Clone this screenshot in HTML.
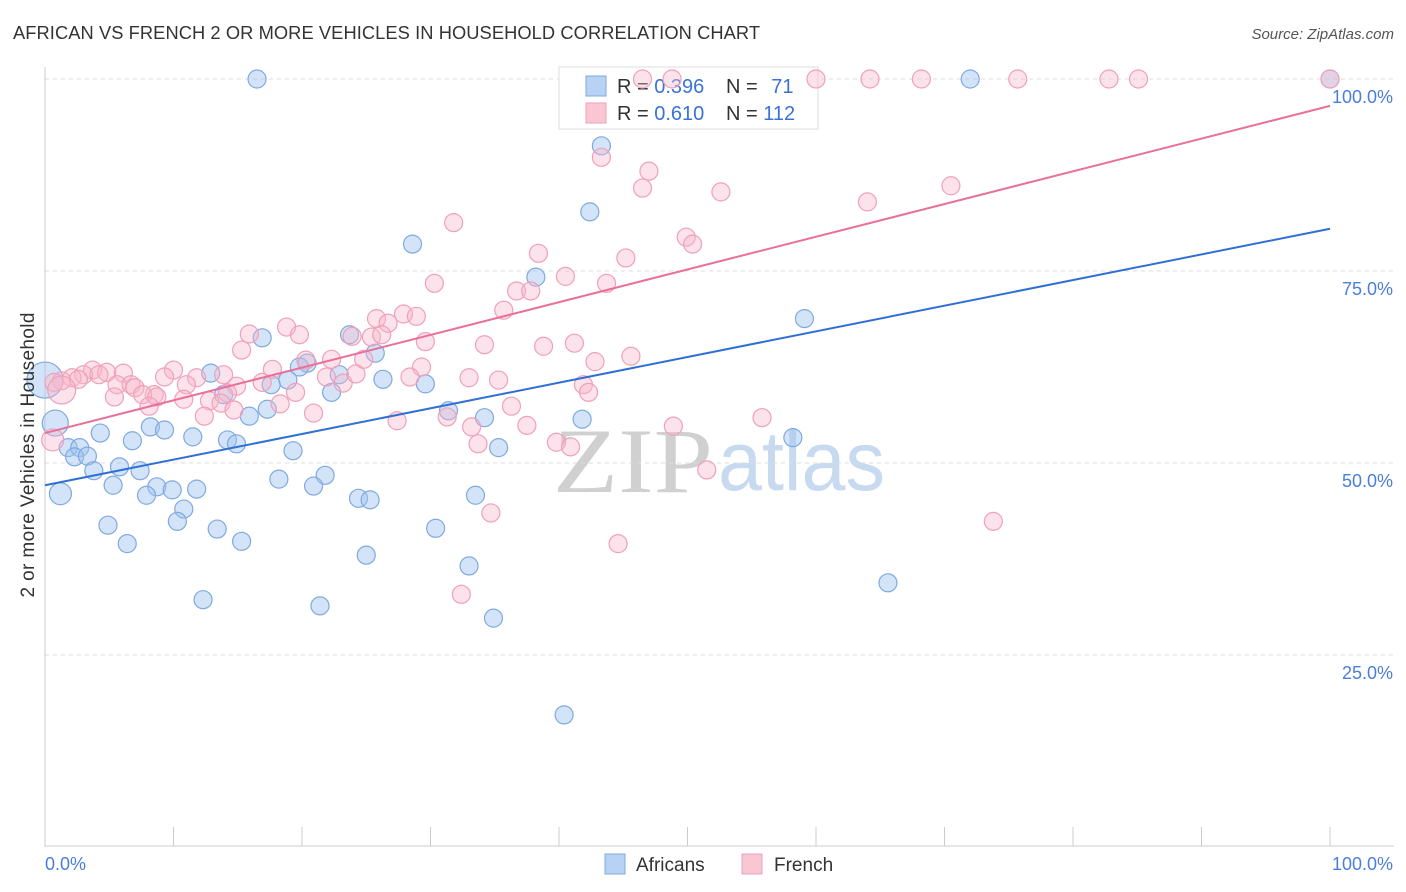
<!DOCTYPE html>
<html><head><meta charset="utf-8"><style>
body{margin:0;background:#fff;font-family:"Liberation Sans",sans-serif;}
svg{display:block}
</style></head><body>
<svg id="chart" width="1406" height="892" xmlns="http://www.w3.org/2000/svg" font-family="Liberation Sans, sans-serif">
<text x="13" y="39" font-size="18.3" fill="#333" textLength="747">AFRICAN VS FRENCH 2 OR MORE VEHICLES IN HOUSEHOLD CORRELATION CHART</text>
<text x="1394" y="39" font-size="15" fill="#555" text-anchor="end" font-style="italic">Source: ZipAtlas.com</text>
<g font-size="92" font-family="Liberation Serif, serif">
<text x="553" y="492" fill="#d0d0d0" textLength="160" lengthAdjust="spacingAndGlyphs">ZIP</text><text x="718" y="490" fill="#c8daf0" font-size="84" font-family="Liberation Sans, sans-serif" textLength="167" lengthAdjust="spacingAndGlyphs">atlas</text></g>
<g id="grid"></g><g id="axes"></g>
<g>
<rect x="559" y="67" width="259" height="62" fill="#fff" stroke="#ddd"/>
<rect x="586" y="76" width="20" height="20" fill="#b8d2f4" stroke="#7fa9e0"/>
<text x="617" y="93" font-size="20" fill="#333">R = <tspan fill="#3a72d8">0.396</tspan></text>
<text x="726" y="93" font-size="20" fill="#333">N = <tspan fill="#3a72d8" dx="8">71</tspan></text>
<rect x="586" y="103" width="20" height="20" fill="#f9c6d4" stroke="#f0a0b8"/>
<text x="617" y="120" font-size="20" fill="#333">R = <tspan fill="#3a72d8">0.610</tspan></text>
<text x="726" y="120" font-size="20" fill="#333">N = <tspan fill="#3a72d8">112</tspan></text>
</g>
<g id="points"></g><g id="lines"></g>
<text transform="translate(34,455) rotate(-90)" font-size="19" fill="#333" text-anchor="middle" textLength="285">2 or more Vehicles in Household</text>
<g>
<rect x="605" y="854" width="20" height="20" fill="#b8d2f4" stroke="#7fa9e0"/>
<text x="636" y="871" font-size="19" fill="#333">Africans</text>
<rect x="742" y="854" width="20" height="20" fill="#f9c6d4" stroke="#f0a0b8"/>
<text x="774" y="871" font-size="19" fill="#333">French</text>
</g>
</svg>
<script>
const yTicks=[25,50,75,100];
const yTickLabels=["25.0%","50.0%","75.0%","100.0%"];
const xTicks=[0,10,20,30,40,50,60,70,80,90,100];
const blueX=[16.5,72.0,100,43.3,42.4,28.6,38.2,59.1,16.9,23.7,25.7,20.4,12.9,19.8,22.9,26.3,18.9,17.6,13.9,22.3,29.6,15.9,17.3,31.4,34.2,41.8,0.8,4.3,8.2,9.3,11.5,14.2,14.9,6.8,58.2,1.8,2.7,2.3,3.3,5.8,7.4,3.8,35.3,19.3,21.8,18.2,5.3,8.7,9.9,7.9,11.8,20.9,1.2,24.4,25.3,33.5,10.8,10.3,4.9,30.4,13.4,15.3,6.4,25.0,33.0,65.6,12.3,21.4,34.9,40.4,0];
const blueY=[100,100,100,91.3,82.7,78.5,74.2,68.8,66.3,66.7,64.3,63.0,61.7,62.5,61.5,60.9,60.8,60.2,58.9,59.2,60.3,56.1,57.0,56.8,55.9,55.7,55.2,53.9,54.7,54.3,53.4,53.0,52.5,52.9,53.3,52.0,52.0,50.8,50.9,49.5,49.0,49.0,52.0,51.6,48.4,47.9,47.1,46.9,46.5,45.8,46.6,47.0,46.0,45.4,45.2,45.8,44.0,42.4,41.9,41.5,41.4,39.8,39.5,38.0,36.6,34.4,32.2,31.4,29.8,17.2,60.8];
const blueR=[9,9,9,9,9,9,9,9,9,9,9,9,9,9,9,9,9,9,9,9,9,9,9,9,9,9,13,9,9,9,9,9,9,9,9,9,9,9,9,9,9,9,9,9,9,9,9,9,9,9,9,9,11,9,9,9,9,9,9,9,9,9,9,9,9,9,9,9,9,9,18];
const pinkX=[46.5,48.8,60.0,64.2,68.2,75.7,82.8,85.1,100,43.3,47.0,46.5,52.6,70.5,64.0,31.8,49.9,50.4,38.4,40.5,45.2,30.3,36.7,37.8,43.7,35.7,27.9,28.9,25.8,26.7,18.8,19.8,15.9,23.9,25.4,26.2,29.6,34.2,38.8,41.2,45.6,15.3,42.8,20.3,22.3,24.8,29.3,17.7,3.7,4.8,6.1,10.0,9.3,13.9,11.8,3.0,2.1,4.2,1.3,2.6,0.7,5.6,6.7,7.0,8.5,16.9,21.9,23.2,24.2,28.4,33.0,35.3,41.9,11.0,14.9,19.5,5.4,7.6,8.7,10.8,12.8,18.3,14.2,13.7,8.1,14.7,36.3,42.3,20.9,12.4,31.3,27.4,55.8,37.5,33.2,48.9,33.7,39.8,40.9,51.5,0.6,34.7,73.8,44.6,32.4,1.3];
const pinkY=[100,100,100,100,100,100,100,100,100,89.8,88.0,85.8,85.3,86.1,84.0,81.3,79.4,78.5,77.3,74.3,76.7,73.4,72.4,72.4,73.4,69.9,69.4,69.1,68.8,68.2,67.7,66.7,66.8,66.5,66.4,66.7,65.8,65.4,65.2,65.6,63.9,64.7,63.2,63.4,63.5,63.5,62.5,62.2,62.1,61.8,61.7,62.1,61.2,61.5,61.1,61.5,61.1,61.5,60.7,60.9,60.5,60.2,60.2,59.8,58.9,60.5,61.2,60.4,61.6,61.2,61.1,60.8,60.2,60.2,60.0,59.2,58.6,58.9,58.6,58.3,58.1,57.7,59.1,57.8,57.4,56.9,57.4,59.2,56.5,56.1,56.0,55.5,55.9,54.9,54.7,54.8,52.5,52.7,52.1,49.1,53.0,43.5,42.4,39.5,32.9,59.5];
const pinkR=[9,9,9,9,9,9,9,9,9,9,9,9,9,9,9,9,9,9,9,9,9,9,9,9,9,9,9,9,9,9,9,9,9,9,9,9,9,9,9,9,9,9,9,9,9,9,9,9,9,9,9,9,9,9,9,9,9,9,9,9,9,9,9,9,9,9,9,9,9,9,9,9,9,9,9,9,9,9,9,9,9,9,9,9,9,9,9,9,9,9,9,9,9,9,9,9,9,9,9,9,11,9,9,9,9,14];
const blueTrend=[47.1,80.5];
const pinkTrend=[53.9,96.5];

const NS="http://www.w3.org/2000/svg";
const sx=v=>45+v*12.85;
const sy=v=>847-v*7.68;
function mk(tag,attrs,parent){const e=document.createElementNS(NS,tag);for(const k in attrs)e.setAttribute(k,attrs[k]);parent.appendChild(e);return e;}
const grid=document.getElementById('grid'),axes=document.getElementById('axes'),pts=document.getElementById('points'),lines=document.getElementById('lines');
yTicks.forEach((t,i)=>{
  const l=mk('line',{x1:45,x2:1394,y1:sy(t),y2:sy(t),stroke:'#ddd','stroke-dasharray':'4,4'},grid);
  
  
  const tx=mk('text',{x:1393,y:sy(t)+24,'font-size':18,fill:'#4a7fd8','text-anchor':'end'},axes);
  tx.textContent=yTickLabels[i];
  
  
});
const ya=mk('line',{x1:45,x2:45,y1:67,y2:847,stroke:'#ccc'},axes);


const xa=mk('line',{x1:45,x2:1394,y1:846,y2:846,stroke:'#ccc'},axes);


xTicks.forEach(t=>{
  const l=mk('line',{x1:sx(t),x2:sx(t),y1:827,y2:846,stroke:'#ccc'},axes);
  
  
});
[["0.0%",45,"start"],["100.0%",1393,"end"]].forEach(a=>{
  const t=mk('text',{x:a[1],y:870,'font-size':18,fill:'#4a7fd8','text-anchor':a[2]},axes);
  t.textContent=a[0];
  
  
});
blueX.forEach((x,i)=>{
  const c=mk('circle',{cx:sx(x),cy:sy(blueY[i]),r:blueR[i],fill:'rgba(160,196,240,0.45)',stroke:'#7fa9e0','stroke-width':1.2},pts);
  
  
});
pinkX.forEach((x,i)=>{
  const c=mk('circle',{cx:sx(x),cy:sy(pinkY[i]),r:pinkR[i],fill:'rgba(248,182,202,0.4)',stroke:'#f0a0b8','stroke-width':1.2},pts);
  
  
});
const bl=mk('line',{x1:sx(0),y1:sy(blueTrend[0]),x2:sx(100),y2:sy(blueTrend[1]),stroke:'#2f6fd6','stroke-width':2},lines);


const pl=mk('line',{x1:sx(0),y1:sy(pinkTrend[0]),x2:sx(100),y2:sy(pinkTrend[1]),stroke:'#e8709a','stroke-width':2},lines);


</script>
</body></html>
